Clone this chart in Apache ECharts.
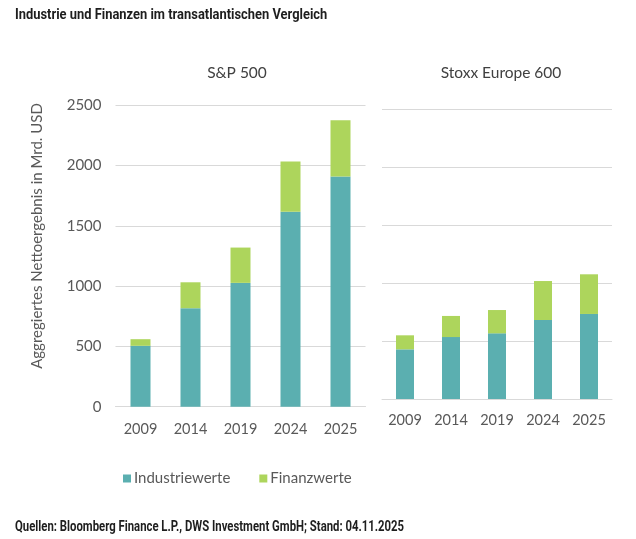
<!DOCTYPE html>
<html>
<head>
<meta charset="utf-8">
<script src="https://cdn.jsdelivr.net/npm/echarts@6/dist/echarts.min.js"></script>
<style>
html,body{margin:0;padding:0;background:#fff;}
#c{width:636px;height:539px;}
</style>
</head>
<body>
<div id="c"></div>
<script>
const years = ['2009', '2014', '2019', '2024', '2025'];
const spIndustrie = [505, 817, 1027, 1618, 1909];
const spFinanz = [55, 215, 293, 415, 468];
const stoxxIndustrie = [428, 534, 566, 681, 733];
const stoxxFinanz = [121, 182, 201, 336, 342];
const yTicks = [0, 500, 1000, 1500, 2000, 2500];

const teal = '#5BAFB0';
const green = '#ADD55C';
const gray = '#595959';
const F = 'Lato';

const chart = echarts.init(document.getElementById('c'));
chart.setOption({
  animation: false,
  backgroundColor: '#fff',
  graphic: [
    { type: 'text', x: 15, y: 15, scaleX: 0.86,
      style: { text: 'Industrie und Finanzen im transatlantischen Vergleich', fontFamily: 'Roboto', fontWeight: 'bold',
        fontSize: 15, fill: '#1e1e1e', verticalAlign: 'middle' } },
    { type: 'text', x: 15, y: 527, scaleX: 0.81,
      style: { text: 'Quellen: Bloomberg Finance L.P., DWS Investment GmbH; Stand: 04.11.2025', fontFamily: 'Roboto', fontWeight: 'bold',
        fontSize: 14, fill: '#1e1e1e', verticalAlign: 'middle' } },
    { type: 'text', x: 237, y: 73,
      style: { text: 'S&P 500', fontFamily: F, fontSize: 15.5, fill: '#404040', align: 'center', verticalAlign: 'middle' } },
    { type: 'text', x: 501, y: 73,
      style: { text: 'Stoxx Europe 600', fontFamily: F, fontSize: 15.5, fill: '#404040', align: 'center', verticalAlign: 'middle' } },
    { type: 'text', x: 37, y: 236, rotation: Math.PI / 2,
      style: { text: 'Aggregiertes Nettoergebnis in Mrd. USD', fontFamily: F, fontSize: 15, fill: gray,
        align: 'center', verticalAlign: 'middle' } }
  ],
  legend: {
    left: 118, top: 466, itemWidth: 8, itemHeight: 8, itemGap: 29, icon: 'rect',
    textStyle: { fontFamily: F, fontSize: 15, color: gray, padding: [0, 0, 0, -2] },
    data: ['Industriewerte', 'Finanzwerte']
  },
  grid: [
    { left: 115.5, width: 250, top: 105.3, height: 301.4 },
    { left: 382, width: 230, top: 109, height: 290 }
  ],
  xAxis: [
    { type: 'category', gridIndex: 0, data: years,
      axisLine: { lineStyle: { color: '#d9d9d9', width: 1 } }, axisTick: { show: false },
      axisLabel: { fontFamily: F, fontSize: 14.5, color: gray, margin: 15 } },
    { type: 'category', gridIndex: 1, data: years,
      axisLine: { lineStyle: { color: '#d9d9d9', width: 1 } }, axisTick: { show: false },
      axisLabel: { fontFamily: F, fontSize: 14.5, color: gray, margin: 14 } }
  ],
  yAxis: [
    { type: 'value', gridIndex: 0, min: yTicks[0], max: yTicks[yTicks.length - 1], interval: 500,
      axisLine: { show: false }, axisTick: { show: false },
      axisLabel: { fontFamily: F, fontSize: 15, color: gray, margin: 14, formatter: v => String(v) },
      splitLine: { lineStyle: { color: '#d9d9d9', width: 1 } } },
    { type: 'value', gridIndex: 1, min: yTicks[0], max: yTicks[yTicks.length - 1], interval: 500,
      axisLine: { show: false }, axisTick: { show: false }, axisLabel: { show: false },
      splitLine: { lineStyle: { color: '#d9d9d9', width: 1 } } }
  ],
  series: [
    { name: 'Industriewerte', type: 'bar', xAxisIndex: 0, yAxisIndex: 0, stack: 'sp', barWidth: 20,
      itemStyle: { color: teal }, data: spIndustrie },
    { name: 'Finanzwerte', type: 'bar', xAxisIndex: 0, yAxisIndex: 0, stack: 'sp', barWidth: 20,
      itemStyle: { color: green }, data: spFinanz },
    { name: 'Industriewerte', type: 'bar', xAxisIndex: 1, yAxisIndex: 1, stack: 'stoxx', barWidth: 18,
      itemStyle: { color: teal }, data: stoxxIndustrie },
    { name: 'Finanzwerte', type: 'bar', xAxisIndex: 1, yAxisIndex: 1, stack: 'stoxx', barWidth: 18,
      itemStyle: { color: green }, data: stoxxFinanz }
  ]
});
</script>
</body>
</html>
